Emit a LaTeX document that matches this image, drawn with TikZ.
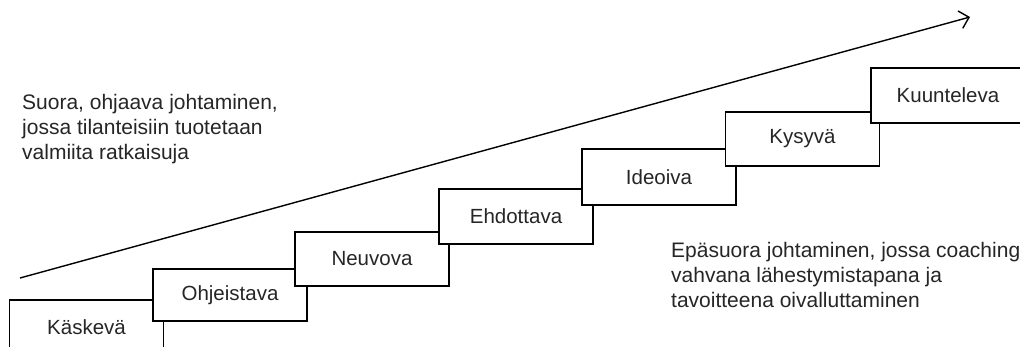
\documentclass[tikz,border=0pt]{standalone}
\usepackage{fontspec}
\setmainfont{Liberation Sans}
\usetikzlibrary{arrows.meta}
\begin{document}
\begin{tikzpicture}[x=1pt,y={(0pt,-1pt)},
  stepbox/.style={draw=black, fill=white, line width=1.6pt, minimum width=154pt, minimum height=54pt, inner sep=0pt, font=\fontsize{20.5}{24}\selectfont, text=black!85},
  note/.style={anchor=north west, inner sep=0pt, align=left, font=\fontsize{21}{25}\selectfont, text=black!85},
  trend/.style={line width=1.4pt, -{Straight Barb[length=9pt,width=18pt,line width=1.4pt]}}]
\useasboundingbox (0,0) rectangle (1020,346);
\clip (0,0) rectangle (1020,346);
\fill[white] (0,0) rectangle (1020,346);
\coordinate (s) at (20,278);
\coordinate (e) at (970,17);
\draw[trend] (s) -- (e);
\node[stepbox] (b1) at (86.5,327) {Käskevä};
\node[stepbox, minimum height=52pt] (b2) at (230,295) {Ohjeistava};
\node[stepbox] (b3) at (372,259) {Neuvova};
\node[stepbox, minimum height=55pt] (b4) at (516,216.5) {Ehdottava};
\node[stepbox, minimum height=56pt] (b5) at (659,177) {Ideoiva};
\node[stepbox] (b6) at (802.5,139) {Kysyvä};
\node[stepbox, minimum height=55pt] (b7) at (948,95.5) {Kuunteleva};
\node[note] (t1) at (22,94) {Suora, ohjaava johtaminen,\\jossa tilanteisiin tuotetaan\\valmiita ratkaisuja};
\node[note] (t2) at (671,242) {Epäsuora johtaminen, jossa coaching\\vahvana lähestymistapana ja\\tavoitteena oivalluttaminen};
\end{tikzpicture}
\end{document}
